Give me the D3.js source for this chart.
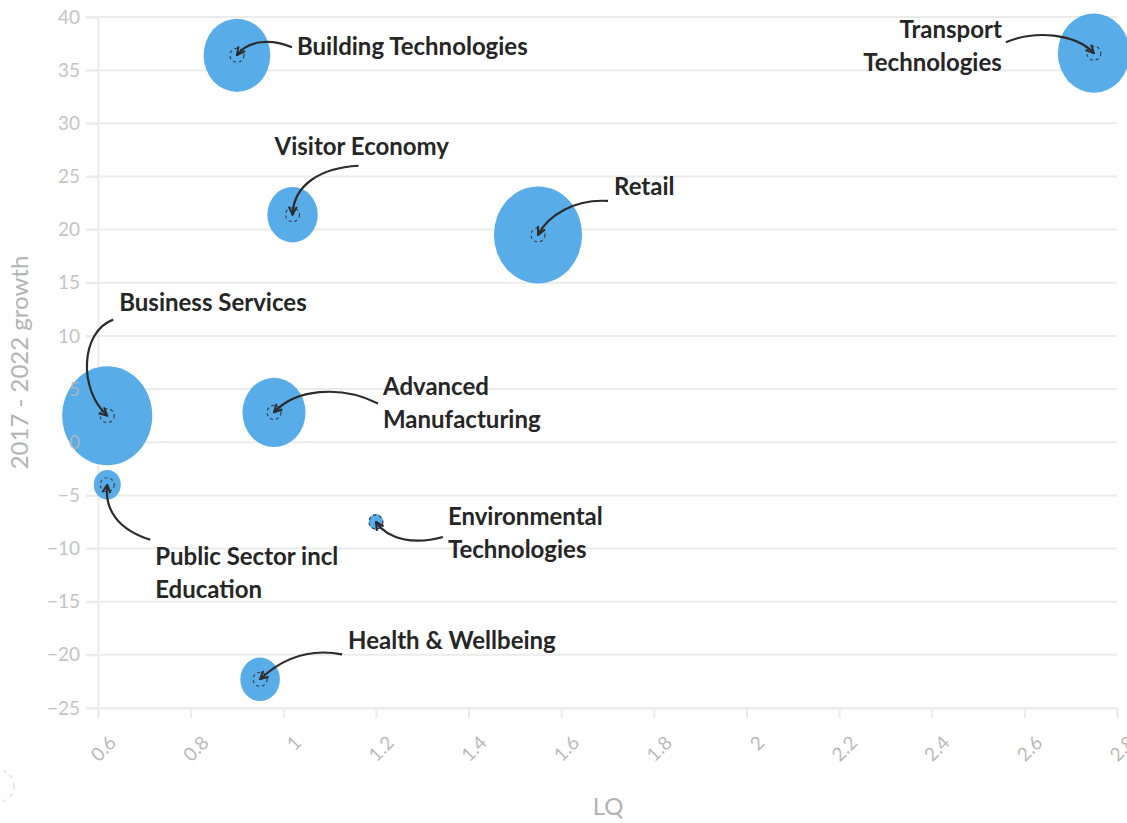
<!DOCTYPE html>
<html>
<head>
<meta charset="utf-8">
<script src="https://cdn.jsdelivr.net/npm/d3@7"></script>
<style>
  body { margin: 0; background: #fff; }
  svg { display: block; font-family: Lato, "Open Sans", sans-serif; }
</style>
</head>
<body>
<svg id="chart"></svg>
<script>
// data
const sectors = ["Building Technologies", "Transport Technologies", "Visitor Economy", "Retail",
  "Business Services", "Advanced Manufacturing", "Public Sector incl Education",
  "Environmental Technologies", "Health & Wellbeing"];
const lq = [0.9, 2.75, 1.02, 1.55, 0.62, 0.98, 0.62, 1.2, 0.95];
const growth = [36.4, 36.6, 21.4, 19.5, 2.5, 2.8, -4, -7.5, -22.3];
const size = [1370, 1600, 784, 2400, 2500, 1225, 225, 64, 484];
const xTicks = [0.6, 0.8, 1, 1.2, 1.4, 1.6, 1.8, 2, 2.2, 2.4, 2.6, 2.8];
const yTicks = [-25, -20, -15, -10, -5, 0, 5, 10, 15, 20, 25, 30, 35, 40];

// label lines for each sector
const labelLines = [["Building Technologies"], ["Transport", "Technologies"], ["Visitor Economy"], ["Retail"],
  ["Business Services"], ["Advanced", "Manufacturing"], ["Public Sector incl", "Education"],
  ["Environmental", "Technologies"], ["Health & Wellbeing"]];

// annotation layout, offsets from the point in px: text anchor, arrow start, two control points
const notes = [
  { tx: 60, ty: 0, anchor: "start", s: [55, -8], c1: [33, -17], c2: [11, -15] },
  { tx: -92, ty: -15, anchor: "end", s: [-88, -11], c1: [-59, -23], c2: [-19, -20] },
  { tx: -18, ty: -60, anchor: "start", s: [66, -49], c1: [28, -47], c2: [1, -30] },
  { tx: 76, ty: -40, anchor: "start", s: [70, -34], c1: [37, -36], c2: [10, -20] },
  { tx: 12, ty: -105, anchor: "start", s: [6, -96], c1: [-27, -84], c2: [-29, -26] },
  { tx: 109, ty: -17, anchor: "start", s: [104, -9], c1: [66, -28], c2: [21, -23] },
  { tx: 48, ty: 80, anchor: "start", s: [43, 55], c1: [11, 45], c2: [-3, 25] },
  { tx: 72, ty: 3, anchor: "start", s: [67, 15], c1: [39, 23], c2: [12, 18] },
  { tx: 88, ty: -30, anchor: "start", s: [82, -25], c1: [50, -31], c2: [22, -21] }
];

const width = 1127, height = 823;
const margin = { left: 98, right: 10, top: 17, bottom: 115 };

const svg = d3.select("#chart").attr("width", width).attr("height", height);

const x = d3.scaleLinear().domain([0.6, 2.8]).range([margin.left, 1117]);
const y = d3.scaleLinear().domain([-25, 40]).range([708, margin.top]);
const r = d3.scaleSqrt().domain([0, 2500]).range([0, 45]);
const stretch = 1.1; // the picture is a bit taller than wide

// gridlines
svg.append("g")
  .selectAll("line")
  .data(yTicks)
  .join("line")
  .attr("x1", 86)
  .attr("x2", 1117)
  .attr("y1", d => y(d))
  .attr("y2", d => y(d))
  .attr("stroke", "#ebebeb")
  .attr("stroke-width", 2);

// y axis line and ticks (under the bubbles)
const yAxis = svg.append("g")
  .attr("transform", `translate(${margin.left},0)`)
  .call(d3.axisLeft(y).tickValues(yTicks).tickSize(12).tickFormat(""));
yAxis.select(".domain").attr("stroke", "#ebebeb").attr("stroke-width", 2);
yAxis.selectAll(".tick line").attr("stroke", "#ebebeb").attr("stroke-width", 2);

// bubbles
svg.append("g")
  .selectAll("ellipse")
  .data(sectors)
  .join("ellipse")
  .attr("cx", (d, i) => x(lq[i]))
  .attr("cy", (d, i) => y(growth[i]))
  .attr("rx", (d, i) => r(size[i]))
  .attr("ry", (d, i) => r(size[i]) * stretch)
  .attr("fill", "#58ace8");

// y tick labels, drawn over the bubbles like the original
const yLabels = svg.append("g")
  .attr("transform", `translate(${margin.left},0)`)
  .call(d3.axisLeft(y).tickValues(yTicks).tickSize(12).tickPadding(6).tickFormat(d3.format("d")));
yLabels.select(".domain").remove();
yLabels.selectAll(".tick line").remove();
yLabels.selectAll("text").attr("fill", "#b9b9b9").attr("opacity", 0.85)
  .style("font-size", "19px").style("font-family", "Lato, sans-serif");

// x axis
const xAxis = svg.append("g")
  .attr("transform", `translate(0,${y(-25)})`)
  .call(d3.axisBottom(x).tickValues(xTicks).tickSize(10).tickFormat(d => String(d)));
xAxis.select(".domain").attr("stroke", "#ebebeb").attr("stroke-width", 2);
xAxis.selectAll(".tick line").attr("stroke", "#ebebeb").attr("stroke-width", 2);
xAxis.selectAll("text")
  .attr("fill", "#b9b9b9")
  .style("font-size", "19px")
  .style("font-family", "Lato, sans-serif")
  .attr("text-anchor", "end")
  .attr("dy", "0.35em")
  .attr("transform", "translate(5,22) rotate(-45)");

// axis titles
svg.append("text")
  .attr("transform", `translate(28,${y(7.5)}) rotate(-90)`)
  .attr("text-anchor", "middle")
  .attr("fill", "#b3b3b3")
  .style("font-size", "24px")
  .text("2017 - 2022 growth");

svg.append("text")
  .attr("x", 608)
  .attr("y", 815)
  .attr("text-anchor", "middle")
  .attr("fill", "#b3b3b3")
  .style("font-size", "24px")
  .text("LQ");

// faint leftover circle in the corner
svg.append("circle")
  .attr("cx", -2)
  .attr("cy", 786)
  .attr("r", 16)
  .attr("fill", "none")
  .attr("stroke", "#e3e3e3")
  .attr("stroke-width", 1.5)
  .attr("stroke-dasharray", "4,4");

// dashed focus ring
svg.append("g")
  .selectAll("circle")
  .data(sectors)
  .join("circle")
  .attr("cx", (d, i) => x(lq[i]))
  .attr("cy", (d, i) => y(growth[i]))
  .attr("r", 7)
  .attr("fill", "none")
  .attr("stroke", "#3a3f47")
  .attr("stroke-width", 1.2)
  .attr("stroke-dasharray", "3,3");

// arrow head
svg.append("defs").append("marker")
  .attr("id", "arrow")
  .attr("viewBox", "0 0 10 10")
  .attr("refX", 9)
  .attr("refY", 5)
  .attr("markerWidth", 10)
  .attr("markerHeight", 10)
  .attr("markerUnits", "userSpaceOnUse")
  .attr("orient", "auto")
  .append("path")
  .attr("d", "M1,1 L9,5 L1,9")
  .attr("fill", "none")
  .attr("stroke", "#2b2b2b")
  .attr("stroke-width", 2);

// annotations
sectors.forEach((s, i) => {
  const px = x(lq[i]), py = y(growth[i]);
  const n = notes[i];
  const p = d3.path();
  p.moveTo(px + n.s[0], py + n.s[1]);
  p.bezierCurveTo(px + n.c1[0], py + n.c1[1], px + n.c2[0], py + n.c2[1], px, py);
  svg.append("path")
    .attr("d", p.toString())
    .attr("fill", "none")
    .attr("stroke", "#2b2b2b")
    .attr("stroke-width", 2.2)
    .attr("marker-end", "url(#arrow)");

  const t = svg.append("text")
    .attr("x", px + n.tx)
    .attr("y", py + n.ty)
    .attr("text-anchor", n.anchor)
    .attr("fill", "#262626")
    .style("font-size", "24px")
    .style("font-weight", "bold");
  labelLines[i].forEach((line, j) => {
    t.append("tspan")
      .attr("x", px + n.tx)
      .attr("dy", j === 0 ? 0 : 33)
      .text(line);
  });
});
</script>
</body>
</html>
